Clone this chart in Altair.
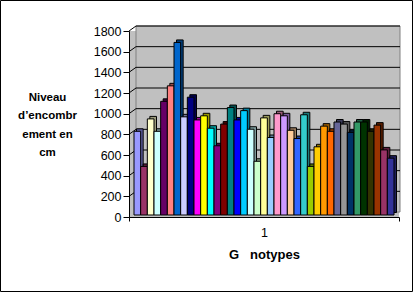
import altair as alt
import pandas as pd

# ---- data ----
categories = ["1"]
series = [f"S{i+1}" for i in range(39)]
values = [810, 470, 930, 810, 1100, 1250, 1670, 950, 1140, 920,
          960, 840, 670, 880, 1040, 920, 1010, 830, 520, 940,
          750, 980, 960, 820, 740, 970, 470, 660, 860, 810,
          900, 880, 800, 900, 900, 810, 870, 630, 550]
colors = ["#9999FF", "#993366", "#FFFFCC", "#CCFFFF", "#660066", "#FF8080", "#0066CC", "#CCCCFF",
          "#000080", "#FF00FF", "#FFFF00", "#00FFFF", "#800080", "#800000", "#008080", "#0000FF",
          "#00CCFF", "#CCFFFF", "#CCFFCC", "#FFFF99", "#99CCFF", "#FF99CC", "#CC99FF", "#FFCC99",
          "#3366FF", "#33CCCC", "#99CC00", "#FFCC00", "#FF9900", "#FF6600", "#666699", "#969696",
          "#003366", "#339966", "#003300", "#333300", "#993300", "#993366", "#333399"]
y_ticks = [200, 400, 600, 800, 1000, 1200, 1400, 1600, 1800]


def darker(hexc, f=0.6):
    r, g, b = (int(hexc[i:i + 2], 16) for i in (1, 3, 5))
    return "#%02x%02x%02x" % (int(r * f), int(g * f), int(b * f))


df = pd.DataFrame({"series": series, "value": values, "color": colors,
                   "dark": [darker(c) for c in colors]})
ticks_df = pd.DataFrame({"v": y_ticks})
cat_df = pd.DataFrame({"cat": categories})

W, H = 270, 186
FONT = "Liberation Sans"

yscale = alt.Scale(domain=[0, 1800], nice=False, zero=True)
xscale = alt.Scale(paddingInner=0, paddingOuter=0.75)

yaxis = alt.Axis(values=[0] + y_ticks, grid=False, tickSize=6, labelPadding=2,
                 labelOverlap=False, format="d", labelFlush=False,
                 labelFont=FONT, labelFontSize=12.5, labelColor="black",
                 domainColor="black", tickColor="black",
                 title=["Niveau", "d\u2019encombr", "ement en", "cm"],
                 titleAngle=0, titleAlign="center", titleBaseline="top",
                 titleX=-82, titleY=60, titleFont=FONT, titleFontSize=11.5,
                 titleFontWeight="bold", titleLineHeight=18.5, titleColor="black")

# chart border
border = alt.Chart(cat_df).mark_rect(fillOpacity=0, stroke="black", strokeWidth=1).encode(
    x=alt.value(-128.5), x2=alt.value(283.5), y=alt.value(-30.5), y2=alt.value(260.5))

# back wall
wall = alt.Chart(cat_df).mark_rect(fill="#C0C0C0", stroke="#808080", strokeWidth=1).encode(
    x=alt.value(7), x2=alt.value(271), y=alt.value(-5), y2=alt.value(181))

grid = alt.Chart(ticks_df).mark_rule(color="black", strokeWidth=1, yOffset=-5).encode(
    y=alt.Y("v:Q", scale=yscale, axis=yaxis), x=alt.value(7), x2=alt.value(271))

diag = alt.Chart(ticks_df).mark_rule(color="black", strokeWidth=1, y2Offset=-5).encode(
    y=alt.Y("v:Q", scale=yscale, axis=yaxis), y2="v:Q", x=alt.value(0), x2=alt.value(7))

depth = alt.Chart(df).mark_bar(xOffset=2.5, yOffset=-4.5, stroke="black", strokeWidth=1).encode(
    x=alt.X("series:N", sort=None, axis=None, scale=xscale),
    y=alt.Y("value:Q", scale=yscale, axis=yaxis),
    fill=alt.Fill("dark:N", scale=None))

front = alt.Chart(df).mark_bar(yOffset=-2, stroke="black", strokeWidth=1).encode(
    x=alt.X("series:N", sort=None, axis=None, scale=xscale),
    y=alt.Y("value:Q", scale=yscale, axis=yaxis),
    fill=alt.Fill("color:N", scale=None))

bars = alt.layer(wall, grid, diag, depth, front, border)

cat_layer = alt.Chart(cat_df).mark_point(opacity=0).encode(
    x=alt.X("cat:N", scale=alt.Scale(type="band", paddingInner=0, paddingOuter=0),
            axis=alt.Axis(orient="bottom", tickBand="extent", tickSize=4, labelPadding=5,
                          labelAngle=0, labelFont=FONT, labelFontSize=12.5, labelColor="black",
                          domainColor="black", tickColor="black",
                          title="G\u00a0\u00a0\u00a0notypes", titleFont=FONT, titleFontSize=13,
                          titleFontWeight="bold", titleColor="black",
                          titleBaseline="middle", titleY=37)),
    y=alt.value(0))

chart = alt.layer(bars, cat_layer).resolve_scale(x="independent").properties(
    width=W, height=H,
    autosize=alt.AutoSizeParams(type="none"),
    padding={"left": 129, "top": 31, "right": 14, "bottom": 75},
    background="white",
).configure_view(strokeWidth=0, fill="#C0C0C0").configure_axisY(labelOverlap=False)

chart.save("out.html", embed_options={"renderer": "svg", "actions": False})
